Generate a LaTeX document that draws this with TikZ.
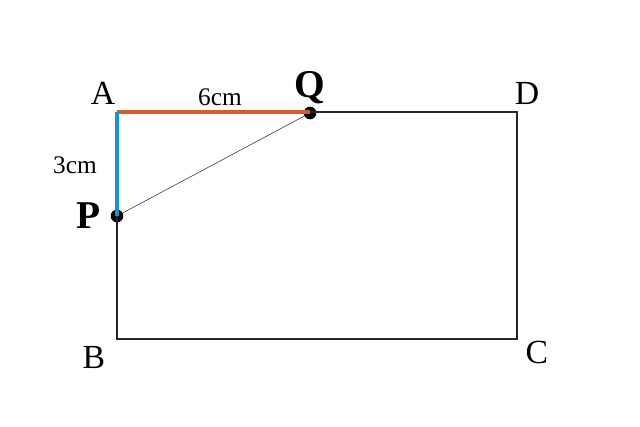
\documentclass[tikz,border=0pt]{standalone}
\usepackage{fontspec}
\setmainfont{Liberation Serif}
\usepackage{tikz}
\usetikzlibrary{positioning}
\usepackage{xcolor}
\definecolor{rcorange}{RGB}{214,92,40}
\definecolor{rcblue}{RGB}{30,144,204}
\tikzstyle{side} = [line width=1.4pt, color=black!85]
\tikzstyle{seg} = [line width=2.2pt]
\tikzstyle{dot} = [circle, fill=black, inner sep=0pt, minimum size=9pt]
\tikzstyle{corner} = [font=\fontsize{24}{24}\selectfont, inner sep=0pt]
\tikzstyle{pointlbl} = [font=\fontsize{28}{28}\selectfont\bfseries, inner sep=0pt]
\tikzstyle{lenlbl} = [font=\fontsize{18}{18}\selectfont, inner sep=0pt]

\begin{document}
\begin{tikzpicture}[x=0.025cm, y=0.025cm]
\useasboundingbox (0,0) rectangle (640,427);
% Corners
\coordinate (A) at (117,315);
\coordinate (D) at (517,315);
\coordinate (B) at (117,88);
\coordinate (C) at (517,88);
\node[dot] (P) at (117,211) {};
\node[dot] (Q) at (310,314) {};

% Rectangle
\draw[side] (A) -- (D) -- (C) -- (B) -- (A);
\draw[seg, rcorange] (A) -- (Q.center |- A);
\draw[seg, rcblue] (A) -- (P.center);
\draw[thin, black!80] (P) -- (Q);

% Labels
\node[corner] (lblA) at (103,334) {A};
\node[corner] (lblD) at (527,334) {D};
\node[corner] (lblB) at (94,69) {B};
\node[corner] (lblC) at (537,75) {C};
\node[pointlbl] (lblP) at (89,211) {P};
\node[pointlbl] (lblQ) at (310,339) {Q};
\node[lenlbl] (lenAQ) at (220,330) {6cm};
\node[lenlbl] (lenAP) at (75,262) {3cm};
\end{tikzpicture}
\end{document}
